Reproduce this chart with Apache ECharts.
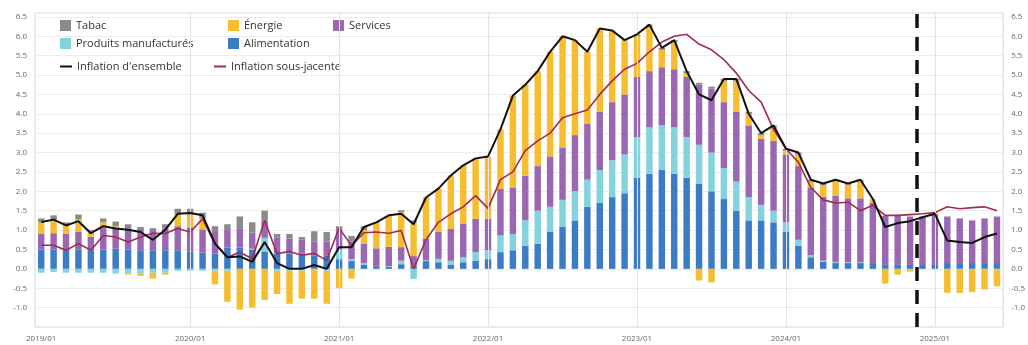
<!DOCTYPE html>
<html><head><meta charset="utf-8">
<script src="https://cdn.jsdelivr.net/npm/echarts@6/dist/echarts.min.js"></script>
<style>html,body{margin:0;padding:0;background:#fff}#c{width:1028px;height:345px}</style>
</head><body><div id="c"></div>
<script>
const months = [];
for (let y = 2019; y <= 2025; y++) for (let m = 1; m <= 12; m++) { if (y === 2025 && m > 6) break; months.push(y + '/' + (m < 10 ? '0' + m : m)); }

const alimentation = [
0.50,0.50,0.48,0.50,0.48,0.50,0.52,0.50,0.48,0.48,0.48,0.48,
0.45,0.42,0.40,0.55,0.55,0.50,0.45,0.40,0.40,0.40,0.35,0.35,
0.25,0.20,0.10,0.05,0.05,0.12,0.08,0.20,0.17,0.10,0.17,0.21,
0.25,0.43,0.48,0.60,0.65,0.95,1.08,1.25,1.60,1.70,1.85,1.95,
2.35,2.45,2.55,2.45,2.35,2.20,2.00,1.80,1.50,1.25,1.25,1.20,
0.95,0.60,0.30,0.18,0.15,0.15,0.15,0.15,0.12,0.12,0.10,0.10,
0.10,0.15,0.15,0.15,0.15,0.15];
const manufactures = [
-0.10,-0.08,-0.10,-0.10,-0.10,-0.10,-0.12,-0.12,-0.12,-0.10,-0.10,-0.05,
-0.05,-0.05,-0.05,-0.05,0.00,0.02,0.35,-0.05,-0.05,-0.05,-0.02,-0.05,
0.25,0.05,0.05,0.00,0.02,0.09,-0.26,0.02,0.09,0.11,0.13,0.22,
0.23,0.43,0.42,0.65,0.85,0.65,0.70,0.75,0.70,0.85,0.95,1.00,
1.05,1.20,1.15,1.20,1.05,1.00,1.00,0.80,0.75,0.60,0.40,0.30,
0.25,0.15,0.05,0.03,0.03,0.02,0.02,0.00,-0.03,0.00,-0.02,0.00,
0.00,-0.02,-0.02,-0.02,-0.02,-0.02];
const services = [
0.40,0.42,0.42,0.45,0.35,0.55,0.55,0.55,0.55,0.52,0.55,0.62,
0.62,0.60,0.55,0.45,0.50,0.42,0.45,0.40,0.38,0.35,0.35,0.35,
0.45,0.45,0.50,0.48,0.50,0.35,0.25,0.56,0.69,0.82,0.86,0.86,
0.81,1.20,1.20,1.15,1.15,1.30,1.35,1.45,1.45,1.50,1.50,1.55,
1.55,1.45,1.50,1.50,1.55,1.55,1.65,1.70,1.80,1.85,1.70,1.80,
1.75,1.90,1.75,1.65,1.70,1.65,1.65,1.55,1.25,1.25,1.25,1.25,
1.30,1.20,1.15,1.10,1.15,1.20];
const energie = [
0.30,0.33,0.22,0.33,0.14,0.15,0.03,-0.03,-0.06,-0.15,-0.05,0.30,
0.38,0.28,-0.35,-0.80,-1.05,-1.00,-0.80,-0.60,-0.85,-0.72,-0.75,-0.85,
-0.50,-0.25,0.35,0.65,0.80,0.90,0.87,1.07,1.12,1.38,1.51,1.56,
1.60,1.54,2.37,2.35,2.45,2.70,2.87,2.45,1.85,2.15,1.85,1.40,
1.05,1.15,0.45,0.70,0.10,-0.30,-0.35,0.55,0.80,0.30,0.10,0.35,
0.10,0.30,0.15,0.30,0.40,0.35,0.45,0.10,-0.35,-0.15,-0.05,0.00,
0.05,-0.60,-0.60,-0.58,-0.51,-0.43];
const tabac = [
0.10,0.13,0.08,0.12,0.03,0.10,0.12,0.10,0.05,0.05,0.12,0.15,
0.10,0.15,0.15,0.15,0.30,0.26,0.25,0.10,0.12,0.07,0.27,0.25,
0.15,0.15,0.10,0.02,0.00,0.05,0.05,0.00,0.00,0.00,0.00,0.00,
0.00,0.00,0.00,0.00,0.00,0.00,0.00,0.00,0.00,0.00,0.00,0.00,
0.05,0.05,0.05,0.05,0.05,0.05,0.05,0.05,0.05,0.05,0.05,0.05,
0.05,0.05,0.05,0.04,0.02,0.03,0.03,0.00,0.00,0.00,0.00,0.00,
0.00,0.00,0.00,0.00,0.00,0.00];
const ensemble = [
1.21,1.27,1.12,1.23,0.92,1.10,1.04,1.01,0.95,0.75,1.01,1.42,
1.44,1.38,0.65,0.30,0.32,0.18,0.69,0.15,0.00,0.00,0.10,0.00,
0.56,0.56,1.08,1.20,1.38,1.42,1.15,1.84,2.07,2.41,2.67,2.85,
2.90,3.60,4.47,4.75,5.10,5.60,6.00,5.90,5.60,6.20,6.15,5.90,
6.05,6.30,5.70,5.90,5.10,4.50,4.35,4.90,4.90,4.00,3.50,3.70,
3.10,3.00,2.30,2.20,2.30,2.20,2.30,1.80,1.08,1.18,1.23,1.33,
1.42,0.73,0.69,0.67,0.82,0.91];
const sousJacente = [
0.61,0.61,0.48,0.65,0.48,0.86,0.82,0.69,0.82,0.92,0.91,1.04,
0.95,1.29,0.65,0.30,0.43,0.26,1.25,0.39,0.45,0.35,0.40,0.22,
1.05,0.60,0.93,0.95,0.92,0.99,0.00,0.75,1.20,1.42,1.60,1.89,
1.56,2.30,2.50,3.05,3.30,3.50,3.90,4.00,4.10,4.50,4.85,5.15,
5.30,5.60,5.85,6.00,6.05,5.80,5.65,5.40,5.05,4.60,4.30,3.60,
3.10,2.75,2.10,1.78,1.70,1.72,1.50,1.64,1.38,1.38,1.40,1.42,
1.45,1.60,1.55,1.58,1.60,1.50];
const yTicks = {min: -1.5, max: 6.6, interval: 0.5};
const yearMarks = ['2020/01','2021/01','2022/01','2023/01','2024/01','2025/01'];
const forecastStart = 70.5;

const C = {tabac:'#8a8a8a', energie:'#f5bd2f', services:'#9a68b0', manuf:'#82d3dc', alim:'#3b7cc4', ens:'#111111', sj:'#a02a52'};
const FONT = 'Open Sans';

const chart = echarts.init(document.getElementById('c'));
function barSeries(name, data, color) {
  return {name, type:'bar', stack:'total', data, barWidth:'52%', itemStyle:{color}, z:2, emphasis:{disabled:true}};
}
function legendItem(name, left, top, isLine) {
  return {data:[name], left, top, orient:'horizontal', itemWidth: isLine ? 12 : 11, itemHeight: isLine ? 2 : 11, itemGap:4,
    textStyle:{fontFamily:FONT, fontSize:11, color:'#333'}, selectedMode:false, padding:0, icon:'rect'};
}
const yAxisBase = {type:'value', min:yTicks.min, max:yTicks.max, interval:yTicks.interval,
  axisLine:{show:false}, axisTick:{show:false},
  axisLabel:{showMinLabel:false, showMaxLabel:false, fontFamily:FONT, fontSize:8, color:'#666', formatter:v=>v.toFixed(1)}};

chart.setOption({
  animation:false,
  textStyle:{fontFamily:FONT},
  grid:{left:35, right:24, top:13, bottom:18, show:true, borderColor:'#d6d6d6', borderWidth:1, backgroundColor:'transparent'},
  legend:[
    legendItem('Tabac', 60, 20, false),
    legendItem('Énergie', 228, 20, false),
    legendItem('Services', 333, 20, false),
    legendItem('Produits manufacturés', 60, 38, false),
    legendItem('Alimentation', 228, 38, false),
    legendItem("Inflation d'ensemble", 60, 61, true),
    legendItem('Inflation sous-jacente', 214, 61, true)
  ],
  xAxis:[
    {type:'category', data:months, boundaryGap:true,
      axisLine:{show:false}, axisTick:{show:false}, splitLine:{show:false},
      axisLabel:{interval:(i)=> i % 12 === 0, fontFamily:FONT, fontSize:8, color:'#666', margin:8}},
    {type:'value', min:-0.5, max:months.length - 0.5, show:false}
  ],
  yAxis:[
    Object.assign({}, yAxisBase, {position:'left', splitLine:{show:true, lineStyle:{color:'#ececec', width:1}}}),
    Object.assign({}, yAxisBase, {position:'right', splitLine:{show:false}})
  ],
  series:[
    {name:'_grid', type:'line', data:[], z:1, silent:true,
      markLine:{silent:true, symbol:'none', label:{show:false}, lineStyle:{color:'#e4e4e4', type:'solid', width:1},
        data: yearMarks.map(m=>({xAxis:m}))}},
    barSeries('Alimentation', alimentation, C.alim),
    barSeries('Produits manufacturés', manufactures, C.manuf),
    barSeries('Services', services, C.services),
    barSeries('Énergie', energie, C.energie),
    barSeries('Tabac', tabac, C.tabac),
    {name:'Inflation sous-jacente', type:'line', data:sousJacente, symbol:'none', z:4,
      lineStyle:{color:C.sj, width:1.6}, itemStyle:{color:C.sj}},
    {name:"Inflation d'ensemble", type:'line', data:ensemble, symbol:'none', z:5,
      lineStyle:{color:C.ens, width:2}, itemStyle:{color:C.ens}},
    {name:'_prev', type:'line', xAxisIndex:1, data:[], z:6, silent:true,
      markLine:{silent:true, symbol:'none', label:{show:false}, lineStyle:{color:'#111', type:[14,9], width:3.5},
        data:[{xAxis:forecastStart}]}}
  ]
});
</script></body></html>
